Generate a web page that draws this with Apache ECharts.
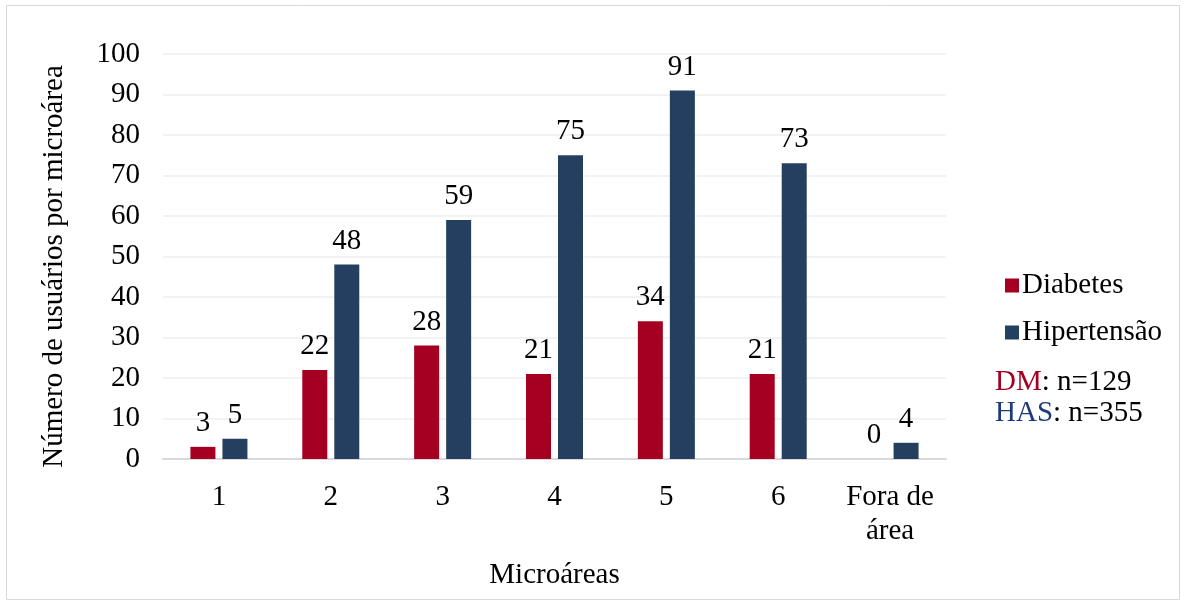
<!DOCTYPE html>
<html>
<head>
<meta charset="utf-8">
<script src="https://cdn.jsdelivr.net/npm/echarts@6/dist/echarts.min.js"></script>
<style>
  html, body { margin: 0; padding: 0; background: #ffffff; }
  #chart { width: 1186px; height: 605px; }
</style>
</head>
<body>
<div id="chart"></div>
<script>
// Users with diabetes / hypertension per micro-area
const categories = ['1', '2', '3', '4', '5', '6', 'Fora de\nárea'];
const diabetes = [3, 22, 28, 21, 34, 21, 0];
const hipertensao = [5, 48, 59, 75, 91, 73, 4];
const yTicks = { min: 0, max: 100, interval: 10 };

const FONT = '"Liberation Serif", "Times New Roman", serif';
const FS = 29;
const RED = '#A50021';
const NAVY = '#243F60';

const chart = echarts.init(document.getElementById('chart'), null, { renderer: 'canvas' });

const labelStyle = {
  show: true,
  position: 'top',
  distance: 9,
  fontFamily: FONT,
  fontSize: FS,
  color: '#000'
};

chart.setOption({
  backgroundColor: '#ffffff',
  animation: false,
  textStyle: { fontFamily: FONT },
  grid: { left: 163, right: 240, top: 54, bottom: 146 },
  legend: {
    orient: 'vertical',
    left: 1000,
    top: 266,
    itemWidth: 14,
    itemHeight: 14,
    itemGap: 18,
    icon: 'rect',
    textStyle: { fontFamily: FONT, fontSize: FS, color: '#000', padding: [0, 0, 0, -2] },
    data: ['Diabetes', 'Hipertensão']
  },
  graphic: [
    {
      type: 'rect',
      shape: { x: 6.5, y: 5.5, width: 1173, height: 594 },
      style: { fill: 'none', stroke: '#d9d9d9', lineWidth: 1 },
      silent: true
    },
    {
      type: 'text',
      left: 995,
      top: 367,
      style: {
        text: '{r|DM}: n=129\n{b|HAS}: n=355',
        fontFamily: FONT,
        fontSize: FS,
        lineHeight: 31,
        fill: '#000',
        rich: {
          r: { fill: RED, fontFamily: FONT, fontSize: FS },
          b: { fill: '#1F3A7A', fontFamily: FONT, fontSize: FS }
        }
      }
    }
  ],
  xAxis: {
    type: 'category',
    data: categories,
    name: 'Microáreas',
    nameLocation: 'middle',
    nameGap: 102,
    nameTextStyle: { fontFamily: FONT, fontSize: FS, color: '#000' },
    axisLine: { lineStyle: { color: '#d9d9d9', width: 2 } },
    axisTick: { show: false },
    axisLabel: { interval: 0, fontFamily: FONT, fontSize: FS, color: '#000', margin: 21, lineHeight: 34 }
  },
  yAxis: {
    type: 'value',
    min: yTicks.min,
    max: yTicks.max,
    interval: yTicks.interval,
    name: 'Número de usuários por microárea',
    nameLocation: 'middle',
    nameGap: 94,
    nameTextStyle: { fontFamily: FONT, fontSize: FS, color: '#000', padding: [0, 20, 0, 0] },
    axisLine: { show: false },
    axisTick: { show: false },
    axisLabel: { fontFamily: FONT, fontSize: FS, color: '#000', margin: 23 },
    splitLine: { lineStyle: { color: '#eeeeee', width: 1.5 } }
  },
  series: [
    {
      name: 'Diabetes',
      type: 'bar',
      data: diabetes,
      barWidth: 25,
      barGap: '28%',
      itemStyle: { color: RED },
      label: labelStyle
    },
    {
      name: 'Hipertensão',
      type: 'bar',
      data: hipertensao,
      barWidth: 25,
      itemStyle: { color: NAVY },
      label: labelStyle
    }
  ]
});
</script>
</body>
</html>
